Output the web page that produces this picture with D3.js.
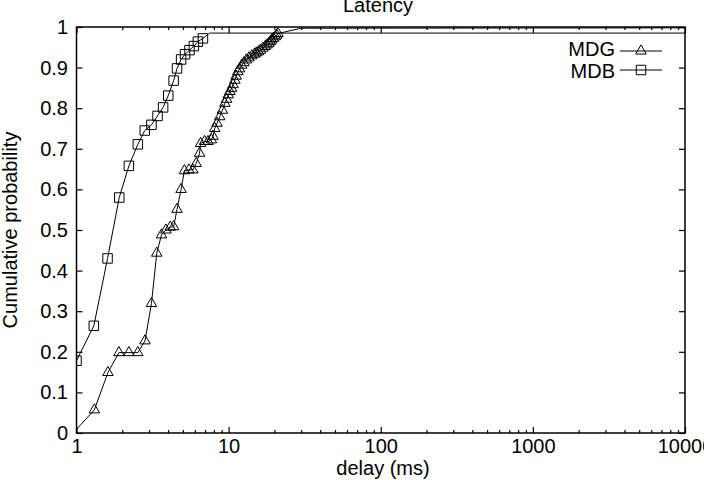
<!DOCTYPE html>
<html>
<head>
    <meta charset="utf-8">
    <title>Latency</title>
    <script type="text/javascript" src="https://cdn.jsdelivr.net/npm/d3@7/dist/d3.min.js"></script>

    <style>
        body{ margin: 0; background: #fff; }
        svg text{
            font-family: "Liberation Sans", Arial, Helvetica, sans-serif;
            font-size: 20px;
            fill: #000;
        }
        .frame{ fill: none; stroke: #000; stroke-width: 1.5; }
        .curve{ fill: none; stroke: #000; stroke-width: 1; }
        .mark{ fill: none; stroke: #000; stroke-width: 1; }
        .axis path.domain{ display: none; }
        .axis line{ stroke: #000; stroke-width: 1.2; }
    </style>
</head>

<body>
<script type="text/javascript">

    // values: delay (ms) -> cumulative probability
    var mdgDelay = [0.95, 1.31, 1.61, 1.90, 2.21, 2.53, 2.82, 3.11, 3.37, 3.62,
        3.87, 4.13, 4.35, 4.58, 4.87, 5.12, 5.48, 5.82, 6.12, 6.44,
        6.54, 6.95, 7.32, 7.70, 7.90, 8.10, 8.40, 8.74, 9.10, 9.44,
        9.70, 9.94, 10.2, 10.45, 10.7, 11.0, 11.2, 11.5, 11.8, 12.2,
        12.6, 13.1, 13.6, 14.2, 14.8, 15.2, 15.7, 16.2, 16.8, 17.4,
        17.9, 18.4, 18.8, 19.2, 19.7, 20.3, 20.7, 21.1];
    var mdgProb = [0, 0.057, 0.149, 0.198, 0.198, 0.198, 0.227, 0.319, 0.443, 0.488,
        0.500, 0.507, 0.508, 0.551, 0.600, 0.646, 0.648, 0.648, 0.664, 0.689,
        0.713, 0.718, 0.718, 0.722, 0.731, 0.750, 0.763, 0.779, 0.795, 0.812,
        0.822, 0.833, 0.841, 0.849, 0.858, 0.869, 0.879, 0.890, 0.897, 0.906,
        0.912, 0.919, 0.924, 0.929, 0.933, 0.936, 0.939, 0.943, 0.948, 0.952,
        0.956, 0.960, 0.964, 0.968, 0.972, 0.976, 0.980, 0.984];
    // line only, no markers
    var mdgTailDelay = [21.1, 30, 20000];
    var mdgTailProb = [0.984, 0.997, 0.998];

    var mdbDelay = [1.00, 1.30, 1.60, 1.91, 2.21, 2.53, 2.81, 3.11, 3.41, 3.71,
        4.01, 4.35, 4.58, 4.87, 5.17, 5.53, 5.91, 6.28, 6.78];
    var mdbProb = [0.178, 0.264, 0.430, 0.580, 0.658, 0.711, 0.745, 0.759, 0.781, 0.802,
        0.831, 0.868, 0.898, 0.920, 0.933, 0.943, 0.953, 0.964, 0.972];
    var mdbTailDelay = [6.78, 7.5, 20000];
    var mdbTailProb = [0.972, 0.985, 0.985];

    var xTicks = [1, 10, 100, 1000, 10000];
    var xTickLabels = ["1", "10", "100", "1000", "10000"];
    var yTicks = [0, 0.1, 0.2, 0.3, 0.4, 0.5, 0.6, 0.7, 0.8, 0.9, 1];
    var yTickLabels = ["0", "0.1", "0.2", "0.3", "0.4", "0.5", "0.6", "0.7", "0.8", "0.9", "1"];

    var width = 704,
        height = 480,
        pLeft = 76.5, pRight = 685,
        pTop = 27, pBottom = 433;

    var x = d3.scaleLog().domain([1, 10000]).range([pLeft, pRight]),
        y = d3.scaleLinear().domain([0, 1]).range([pBottom, pTop]);

    var svg = d3.select('body').append('svg')
        .attr('width', width)
        .attr('height', height);

    svg.append('defs').append('clipPath')
        .attr('id', 'plot')
        .append('rect')
        .attr('x', pLeft).attr('y', pTop)
        .attr('width', pRight - pLeft).attr('height', pBottom - pTop);

    // minor ticks of the log axis (2..9 in every decade)
    var minor = x.ticks().filter(function(d){ return xTicks.indexOf(d) < 0; });

    svg.append('g').attr('class', 'axis')
        .attr('transform', 'translate(0,' + pBottom + ')')
        .call(d3.axisBottom(x).tickValues(xTicks).tickSize(-6).tickPadding(6)
            .tickFormat(function(d, i){ return xTickLabels[i]; }));
    svg.append('g').attr('class', 'axis')
        .attr('transform', 'translate(0,' + pBottom + ')')
        .call(d3.axisBottom(x).tickValues(minor).tickSize(-3).tickFormat(''));
    svg.append('g').attr('class', 'axis')
        .attr('transform', 'translate(0,' + pTop + ')')
        .call(d3.axisTop(x).tickValues(xTicks).tickSize(-6).tickFormat(''));
    svg.append('g').attr('class', 'axis')
        .attr('transform', 'translate(0,' + pTop + ')')
        .call(d3.axisTop(x).tickValues(minor).tickSize(-3).tickFormat(''));

    svg.append('g').attr('class', 'axis')
        .attr('transform', 'translate(' + pLeft + ',0)')
        .call(d3.axisLeft(y).tickValues(yTicks).tickSize(-6).tickPadding(8.5)
            .tickFormat(function(d, i){ return yTickLabels[i]; }));
    svg.append('g').attr('class', 'axis')
        .attr('transform', 'translate(' + pRight + ',0)')
        .call(d3.axisRight(y).tickValues(yTicks).tickSize(-6).tickFormat(''));

    var line = d3.line()
        .x(function(d){ return x(d[0]); })
        .y(function(d){ return y(d[1]); });

    function pairs(xs, ys){
        return xs.map(function(v, i){ return [v, ys[i]]; });
    }

    var tri = d3.symbol().type(d3.symbolTriangle).size(48);
    var sq = d3.symbol().type(d3.symbolSquare).size(90);

    var series = [
        {name: 'MDG', pts: pairs(mdgDelay, mdgProb), tail: pairs(mdgTailDelay, mdgTailProb), sym: tri},
        {name: 'MDB', pts: pairs(mdbDelay, mdbProb), tail: pairs(mdbTailDelay, mdbTailProb), sym: sq}
    ];

    var plot = svg.append('g').attr('clip-path', 'url(#plot)');

    series.forEach(function(s){
        plot.append('path').attr('class', 'curve').attr('d', line(s.pts));
        plot.append('path').attr('class', 'curve').attr('d', line(s.tail));
        plot.selectAll(null)
            .data(s.pts)
            .enter()
                .append('path')
                .attr('class', 'mark')
                .attr('transform', function(d){ return 'translate(' + x(d[0]) + ',' + y(d[1]) + ')'; })
                .attr('d', s.sym());
    });

    svg.append('rect').attr('class', 'frame')
        .attr('x', pLeft).attr('y', pTop)
        .attr('width', pRight - pLeft).attr('height', pBottom - pTop);

    // legend
    var legendY = [{text: 49, line: 51}, {text: 71, line: 70}];
    series.forEach(function(s, i){
        var g = svg.append('g');
        g.append('text')
            .attr('x', 615).attr('y', legendY[i].text)
            .attr('dy', '0.36em')
            .attr('text-anchor', 'end')
            .text(s.name);
        g.append('line')
            .attr('x1', 620).attr('x2', 662)
            .attr('y1', legendY[i].line).attr('y2', legendY[i].line)
            .attr('stroke', '#000');
        g.append('path').attr('class', 'mark')
            .attr('transform', 'translate(641,' + legendY[i].line + ')')
            .attr('d', s.sym());
    });

    // titles
    svg.append('text')
        .attr('x', 378).attr('y', 12)
        .attr('text-anchor', 'middle')
        .text('Latency');

    svg.append('text')
        .attr('x', 383).attr('y', 475)
        .attr('text-anchor', 'middle')
        .text('delay (ms)');

    svg.append('text')
        .attr('transform', 'translate(17,' + (pTop + pBottom) / 2 + ') rotate(-90)')
        .attr('text-anchor', 'middle')
        .text('Cumulative probability');

</script>
</body>
</html>
